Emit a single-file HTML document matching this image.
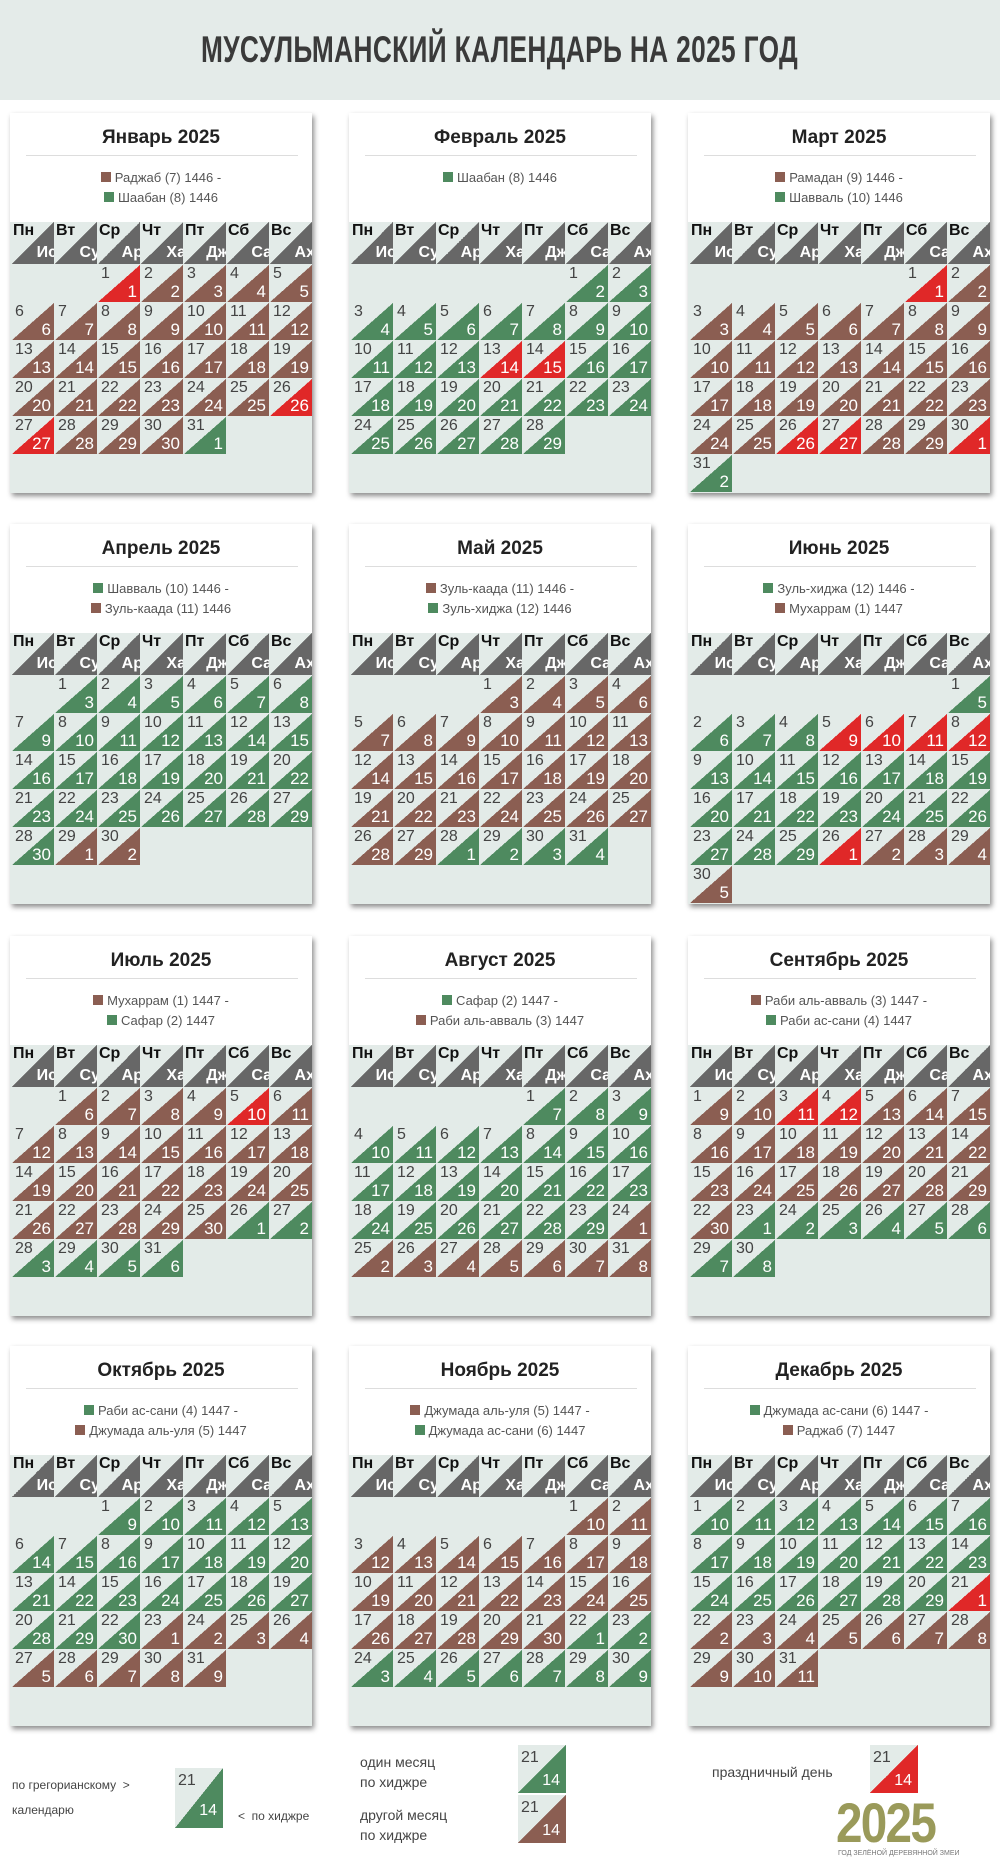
<!DOCTYPE html>
<html><head><meta charset="utf-8">
<style>
*{margin:0;padding:0;box-sizing:border-box}
body{width:1000px;height:1866px;background:#fff;font-family:"Liberation Sans","DejaVu Sans",sans-serif;position:relative;overflow:hidden}
#top{position:absolute;left:0;top:0;width:1000px;height:100px;background:#e4ebe9}
#title{position:absolute;left:0;top:29px;width:1000px;text-align:center;white-space:nowrap}
#title span{display:inline-block;font-weight:bold;font-size:37px;color:#3a3a3a;transform:scaleX(0.71);letter-spacing:0.5px}
.card{position:absolute;width:302px;height:380px;background:#e3ebe8;box-shadow:2px 3px 5px rgba(0,0,0,.45)}
.ct{position:absolute;left:0;top:0;width:302px;height:109px;background:#fff}
.ct h2{position:absolute;top:14px;width:100%;text-align:center;font-size:19px;color:#222}
.ct .hr{position:absolute;left:16px;right:14px;top:42px;height:1px;background:#ddd}
.ct .lg{position:absolute;width:100%;text-align:center;font-size:13px;color:#555;line-height:20px}
.sq{display:inline-block;width:10px;height:10px;margin-right:4px;vertical-align:0}
.grid{position:absolute;left:2px;top:109px;width:300px;display:grid;grid-template-columns:repeat(7,1fr);column-gap:1px;row-gap:1px}
.c{position:relative;height:37px;background-color:#e3ebe8;overflow:hidden}
.h{height:42px}
.g{position:absolute;left:3px;top:0px;font-size:16px;color:#444}
.hj{position:absolute;right:3px;bottom:0px;font-size:17px;color:#fff}
.h .g{font-weight:bold;color:#111;font-size:16px;left:1px}
.h .hj{font-weight:bold;font-size:16px;right:-3px;bottom:2px}
.ft{position:absolute;font-size:14px;color:#444;line-height:20px;font-family:"Liberation Sans Narrow","Liberation Sans",sans-serif}
.lc{position:absolute;width:48px;height:60px;background:#e3ebe8}
.lc .g{font-size:16px;top:4px}
.lc .hj{font-size:16px;bottom:8px;right:6px}
</style></head><body>
<div id="top"></div>
<div id="title"><span>МУСУЛЬМАНСКИЙ КАЛЕНДАРЬ НА 2025 ГОД</span></div>
<div id="cards"></div>

<div class="ft" style="left:12px;top:1775px;font-size:12px">по грегорианскому &nbsp;&gt;</div>
<div class="ft" style="left:12px;top:1800px;font-size:12px">календарю</div>
<div class="lc" style="left:175px;top:1768px;background-image:linear-gradient(to bottom right,transparent 50%,#4e8a5f 50%)"><span class="g">21</span><span class="hj">14</span></div>
<div class="ft" style="left:238px;top:1806px;font-size:12px">&lt; &nbsp;по хиджре</div>
<div class="ft" style="left:360px;top:1752px">один месяц<br>по хиджре</div>
<div class="lc" style="left:518px;top:1745px;height:48px;background-image:linear-gradient(to bottom right,transparent 50%,#4e8a5f 50%)"><span class="g">21</span><span class="hj" style="bottom:3px">14</span></div>
<div class="ft" style="left:360px;top:1805px">другой месяц<br>по хиджре</div>
<div class="lc" style="left:518px;top:1795px;height:48px;background-image:linear-gradient(to bottom right,transparent 50%,#8b5e52 50%)"><span class="g">21</span><span class="hj" style="bottom:3px">14</span></div>
<div class="ft" style="left:712px;top:1762px">праздничный день</div>
<div class="lc" style="left:870px;top:1745px;height:48px;background-image:linear-gradient(to bottom right,transparent 50%,#e02828 50%)"><span class="g">21</span><span class="hj" style="bottom:3px">14</span></div>
<div style="position:absolute;left:836px;top:1790px;font-size:56px;font-weight:bold;color:#9a9a5a;letter-spacing:-2px;transform:scaleX(0.85);transform-origin:left">2025</div>
<div style="position:absolute;left:838px;top:1850px;font-size:7px;color:#777;white-space:nowrap">ГОД ЗЕЛЁНОЙ ДЕРЕВЯННОЙ ЗМЕИ</div>

<script>
var B='#8b5e52',G='#4e8a5f',R='#e02828';
var heads=[['Пн','Ис'],['Вт','Су'],['Ср','Ар'],['Чт','Ха'],['Пт','Дж'],['Сб','Са'],['Вс','Ах']];
var M=[
['Январь',2,31,1,30,[B,G],[1,26,27],[[B,'Раджаб (7) 1446 -'],[G,'Шаабан (8) 1446']]],
['Февраль',5,28,2,99,[G,G],[13,14],[[G,'Шаабан (8) 1446']]],
['Март',5,31,1,29,[B,G],[1,26,27,30],[[B,'Рамадан (9) 1446 -'],[G,'Шавваль (10) 1446']]],
['Апрель',1,30,3,30,[G,B],[],[[G,'Шавваль (10) 1446 -'],[B,'Зуль-каада (11) 1446']]],
['Май',3,31,3,29,[B,G],[],[[B,'Зуль-каада (11) 1446 -'],[G,'Зуль-хиджа (12) 1446']]],
['Июнь',6,30,5,29,[G,B],[5,6,7,8,26],[[G,'Зуль-хиджа (12) 1446 -'],[B,'Мухаррам (1) 1447']]],
['Июль',1,31,6,30,[B,G],[5],[[B,'Мухаррам (1) 1447 -'],[G,'Сафар (2) 1447']]],
['Август',4,31,7,29,[G,B],[],[[G,'Сафар (2) 1447 -'],[B,'Раби аль-авваль (3) 1447']]],
['Сентябрь',0,30,9,30,[B,G],[3,4],[[B,'Раби аль-авваль (3) 1447 -'],[G,'Раби ас-сани (4) 1447']]],
['Октябрь',2,31,9,30,[G,B],[],[[G,'Раби ас-сани (4) 1447 -'],[B,'Джумада аль-уля (5) 1447']]],
['Ноябрь',5,30,10,30,[B,G],[],[[B,'Джумада аль-уля (5) 1447 -'],[G,'Джумада ас-сани (6) 1447']]],
['Декабрь',0,31,10,29,[G,B],[21],[[G,'Джумада ас-сани (6) 1447 -'],[B,'Раджаб (7) 1447']]]
];
var xs=[10,349,688],ys=[113,524,936,1346];
var out='';
function tri(c){return 'background-image:linear-gradient(to bottom right,transparent 50%,'+c+' 50%)';}
M.forEach(function(m,i){
 var x=xs[i%3],y=ys[Math.floor(i/3)];
 var h='<div class="card" style="left:'+x+'px;top:'+y+'px"><div class="ct"><h2>'+m[0]+' 2025</h2><div class="hr"></div>';
 m[7].forEach(function(l,k){h+='<div class="lg" style="top:'+(55+k*20)+'px"><span class="sq" style="background:'+l[0]+'"></span>'+l[1]+'</div>';});
 h+='</div><div class="grid">';
 heads.forEach(function(d){h+='<div class="c h" style="'+tri('#676767')+'"><span class="g">'+d[0]+'</span><span class="hj">'+d[1]+'</span></div>';});
 for(var e=0;e<m[1];e++)h+='<div class="c"></div>';
 var hd=m[3],col=m[5][0];
 for(var d=1;d<=m[2];d++){
  var c=m[6].indexOf(d)>=0?R:col;
  h+='<div class="c" style="'+tri(c)+'"><span class="g">'+d+'</span><span class="hj">'+hd+'</span></div>';
  hd++; if(hd>m[4]){hd=1;col=m[5][1];}
 }
 h+='</div></div>';
 out+=h;
});
document.getElementById('cards').innerHTML=out;
</script>
</body></html>
